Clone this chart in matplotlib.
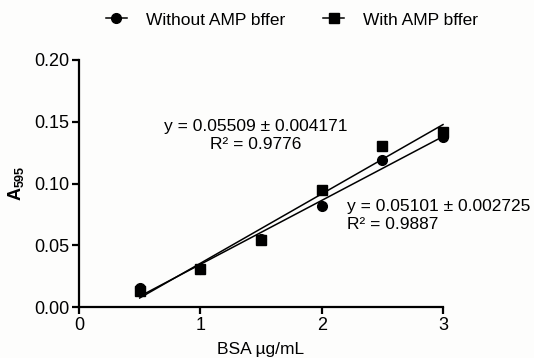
import numpy as np
import matplotlib.pyplot as plt
from matplotlib.lines import Line2D

plt.rcParams['font.family'] = ['Liberation Sans', 'DejaVu Sans']
plt.rcParams['mathtext.fontset'] = 'custom'
plt.rcParams['mathtext.bf'] = 'Liberation Sans:bold'

# data
bsa = [0.5, 1.0, 1.5, 2.0, 2.5, 3.0]
without_amp = [0.015, 0.031, 0.055, 0.082, 0.119, 0.138]
with_amp = [0.013, 0.031, 0.054, 0.095, 0.130, 0.142]
x_ticks = [0, 1, 2, 3]
y_ticks = [0.00, 0.05, 0.10, 0.15, 0.20]
eq_with = 'y = 0.05509 \u00b1 0.004171\nR\u00b2 = 0.9776'
eq_without = 'y = 0.05101 \u00b1 0.002725\nR\u00b2 = 0.9887'

W, H = 534, 358
fig = plt.figure(figsize=(W / 100, H / 100), dpi=100, facecolor='#fdfdfc')
ax = fig.add_axes([79 / W, 1 - 307 / H, (443 - 79) / W, (307 - 60) / H])
ax.set_facecolor('#fdfdfc')

x = np.array(bsa)
xs = np.array([bsa[0], bsa[-1]])
for ys in (without_amp, with_amp):
    k, b = np.polyfit(x, ys, 1)
    ax.plot(xs, k * xs + b, color='black', lw=1.1, clip_on=False)

ax.plot(bsa, without_amp, 'o', color='black', ms=7, clip_on=False, zorder=3)
ax.plot(bsa, with_amp, 's', color='black', ms=7, clip_on=False, zorder=3)

ax.set_xlim(0, 3)
ax.set_ylim(0, 0.2)
ax.set_xticks(x_ticks)
ax.set_yticks(y_ticks)
ax.set_yticklabels(['%.2f' % v for v in y_ticks])
for s in ('top', 'right'):
    ax.spines[s].set_visible(False)
for s in ('left', 'bottom'):
    ax.spines[s].set_linewidth(1.6)
ax.tick_params(direction='out', length=5, width=1.6, labelsize=13, pad=2)

ax.set_xlabel('BSA \u00b5g/mL', fontsize=12.5, labelpad=6)
ax.set_ylabel(r'$\mathbf{A_{595}}$', fontsize=13, labelpad=6)

ax.text(1.46, 0.139, eq_with, ha='center', va='center', fontsize=12.5, linespacing=1.3)
ax.text(2.21, 0.074, eq_without, ha='left', va='center', fontsize=12.5, linespacing=1.3)

handles = [Line2D([], [], color='black', marker='o', ms=7, lw=1.1),
           Line2D([], [], color='black', marker='s', ms=7, lw=1.1)]
fig.legend(handles, ['Without AMP bffer', 'With AMP bffer'], loc='center',
           bbox_to_anchor=(292 / W, 1 - 20 / H), ncol=2, frameon=False,
           fontsize=12.5, handlelength=1.2, handletextpad=1.1, columnspacing=2.2)

fig.savefig('out.png', dpi=100, facecolor=fig.get_facecolor())
